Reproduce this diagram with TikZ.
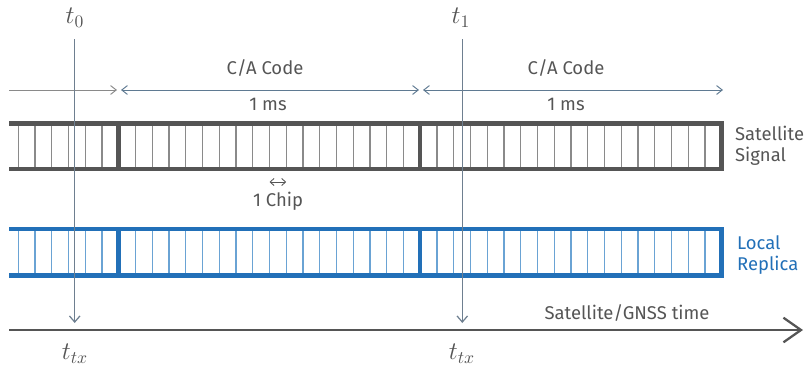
\documentclass[tikz,border=0pt]{standalone}
\usepackage{fontspec}
\setmainfont{Fira Sans}
\usetikzlibrary{arrows.meta}
\definecolor{sgray}{HTML}{555555}
\definecolor{cgray}{HTML}{8A8A8A}
\definecolor{tgray}{HTML}{6E7F90}
\definecolor{dimblue}{HTML}{5F7A92}
\definecolor{repblue}{HTML}{2270B8}
\definecolor{chipblue}{HTML}{6AA3D4}
\tikzset{
  lbl/.style={font=\fontsize{10.5}{12}\selectfont, text=sgray, inner sep=1pt},
  mlbl/.style={font=\fontsize{14.5}{16}\selectfont, text=sgray, inner sep=1pt},
  border/.style={line width=2.6pt},
  chipline/.style={line width=0.7pt},
  dimline/.style={line width=0.55pt, {Straight Barb[length=3.2pt,width=5pt]}-{Straight Barb[length=3.2pt,width=5pt]}},
  tline/.style={line width=0.7pt, draw=tgray, -{Straight Barb[length=3.5pt,width=6pt]}}
}
\begin{document}
\begin{tikzpicture}[x=0.02cm, y=-0.02cm]
  \useasboundingbox (0,0) rectangle (808,369);
  % satellite signal
  \foreach \k in {0,...,41} {
    \draw[chipline, cgray] ({18.2+16.75*\k},123.5) -- ({18.2+16.75*\k},169);
  }
  \draw[border, sgray] (9.3,123.5) -- (721.7,123.5) -- (721.7,169) -- (9.3,169);
  \draw[border, sgray] (118.7,123.5) -- (118.7,169);
  \draw[border, sgray] (420.2,123.5) -- (420.2,169);
  % local replica
  \foreach \k in {0,...,41} {
    \draw[chipline, chipblue] ({18.2+16.75*\k},229) -- ({18.2+16.75*\k},275.5);
  }
  \draw[border, repblue] (9.3,229) -- (721.7,229) -- (721.7,275.5) -- (9.3,275.5);
  \draw[border, repblue] (118.7,229) -- (118.7,275.5);
  \draw[border, repblue] (420.2,229) -- (420.2,275.5);

  % labels
  \node[mlbl] (t0) at (75,18) {$t_0$};
  \node[mlbl] (t1) at (461,18) {$t_1$};
  \node[mlbl] (ttxa) at (75,354) {$t_{tx}$};
  \node[mlbl] (ttxb) at (462,354) {$t_{tx}$};
  \node[lbl] (code1) at (265,68) {C/A Code};
  \node[lbl] (code2) at (566,68) {C/A Code};
  \node[lbl] (ms1) at (268,104) {1 ms};
  \node[lbl] (ms2) at (566,104) {1 ms};
  \node[lbl] (chip) at (278,201) {1 Chip};
  \node[lbl, anchor=west, align=left] (sat) at (733,146) {Satellite\\Signal};
  \node[lbl, anchor=west, align=left, text=repblue] (rep) at (735,255) {Local\\Replica};
  \node[lbl] (gnss) at (627,313) {Satellite/GNSS time};

  % dimension arrows
  \coordinate (d0) at (9.3,90);
  \coordinate (d1) at (117,90);
  \coordinate (d2) at (121,90);
  \coordinate (d3) at (419,90);
  \coordinate (d4) at (423,90);
  \coordinate (d5) at (723,90);
  \draw[line width=0.55pt, cgray, -{Straight Barb[length=3.2pt,width=5pt]}] (d0) -- (d1);
  \draw[dimline, dimblue] (d2) -- (d3);
  \draw[dimline, dimblue] (d4) -- (d5);
  \coordinate (c0) at (269.5,182);
  \coordinate (c1) at (286.2,182);
  \draw[line width=0.5pt, sgray, {Straight Barb[length=2.2pt,width=4pt]}-{Straight Barb[length=2.2pt,width=4pt]}] (c0) -- (c1);

  % time axis
  \coordinate (axl) at (9.3,330);
  \coordinate (axr) at (803,330);
  \draw[line width=1.3pt, sgray, -{Straight Barb[length=10pt,width=14pt]}] (axl) -- (axr);

  % time marks
  \coordinate (s0) at (74.7,39);
  \coordinate (s1) at (462.3,39);
  \coordinate (e0) at (74.7,323);
  \coordinate (e1) at (462.3,323);
  \draw[tline] (s0) -- (e0);
  \draw[tline] (s1) -- (e1);
\end{tikzpicture}
\end{document}
